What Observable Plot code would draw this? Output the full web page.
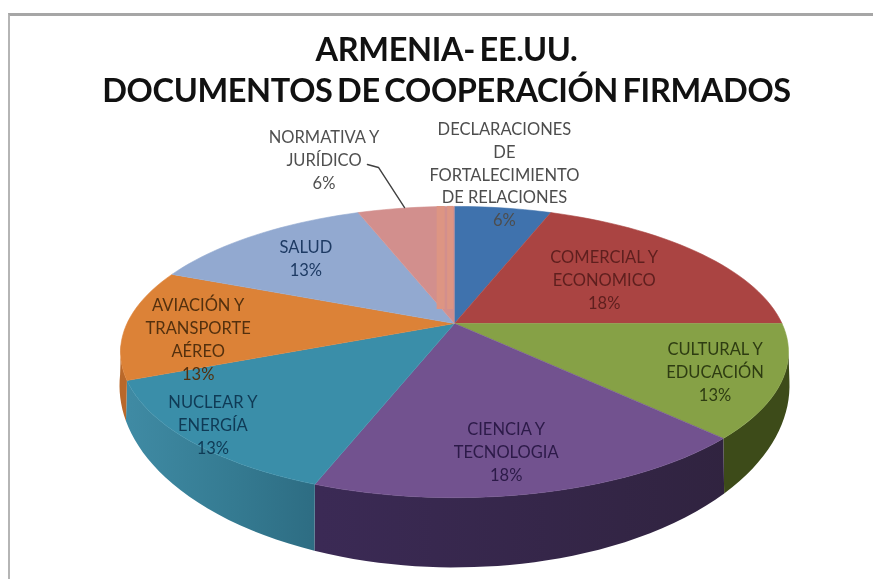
<!DOCTYPE html>
<html><head><meta charset="utf-8">
<script src="https://cdn.jsdelivr.net/npm/d3@7"></script>
<script src="https://cdn.jsdelivr.net/npm/@observablehq/plot@0.6"></script>
<style>
html,body{margin:0;padding:0;background:#fff;overflow:hidden;width:873px;height:579px}
#frame{position:absolute;left:8px;top:13px;width:865px;height:566px;border-top:3px solid #a6a6a6;border-left:2px solid #b5b5b5;overflow:hidden;filter:blur(.6px)}
#title{height:94px;box-sizing:border-box;padding-top:12px;font:bold 32.5px/41px Lato,sans-serif;color:#111;text-align:center;width:875px;margin-left:-1px;letter-spacing:-.35px;word-spacing:-3px}
#chart svg{display:block}
</style></head><body>
<div id="frame">
<div id="title">ARMENIA- EE.UU.<br>DOCUMENTOS DE COOPERACIÓN FIRMADOS</div>
<div id="chart"></div>
</div>
<script>
// Data, clockwise from twelve o'clock
const categories = ["DECLARACIONES\nDE\nFORTALECIMIENTO\nDE RELACIONES","COMERCIAL Y\nECONOMICO","CULTURAL Y\nEDUCACIÓN","CIENCIA Y\nTECNOLOGIA","NUCLEAR Y\nENERGÍA","AVIACIÓN Y\nTRANSPORTE\nAÉREO","SALUD","NORMATIVA Y\nJURÍDICO"];
const documents  = [1,3,2,3,2,2,2,1];
const percents   = ["6%","18%","13%","18%","13%","13%","13%","6%"];

// Styling
const topColors  = ["#3f72ad","#aa4442","#86a146","#72528f","#3a8ea9","#dc8237","#92a9d0","#d28f8d"];
const sideColors = ["#2c5078","#76302e","#3d4b19","url(#sideCiencia)","url(#sideNuclear)","#b9682a","#6a7da0","#a06c6a"];
const textColors = ["#4d4d4d","#5e1f1e","#2e3c12","#2c1a48","#0f3a55","#53300e","#1d3a63","#505050"];
// Label centres in the pie's own plane (unit circle: u to the right, v to the far side)
const labelU = [0.193,0.488,0.746,0.134,-0.647,-0.767,-0.5,-0.518];
const labelV = [1.36,0.345,-0.318,-0.77,-0.6275,-0.102,0.521,1.53];
// Leader line, pie-plane coordinates
const leaderU = [-0.342,-0.297,-0.182];
const leaderV = [1.461,1.426,0.989];
// Salmon bands inside the Normativa slice, rim angle in degrees
const bandAngles = [356.5,358.9];
const bandWidths = [8,6];

// Perspective view of the pie disc
const CX = 454;
const topFace = {a:323,b:-76.7,c:0.196,d:327.5};
const botFace = {a:349.3,b:-106.5,c:0.196,d:328.5};
const project = (f,u,v)=>{const w=1+f.c*v;return {x:CX+f.d*u/w,y:(f.a+f.b*v)/w};};
const rad = Math.PI/180;
const warp = th => th-2.5*Math.sin(4*th*rad)*Math.cos(th*rad)**2;
const rim = (f,th)=>{const t=warp(th)*rad;return project(f,Math.sin(t),Math.cos(t));};
const arc = (f,a,b)=>{const n=Math.max(2,Math.ceil(Math.abs(b-a)/2));return d3.range(n+1).map(i=>rim(f,a+(b-a)*i/n));};

const total = d3.sum(documents);
const cum = d3.cumsum(documents);
const spans = documents.map((v,i)=>[(cum[i]-v)/total*360,cum[i]/total*360]);
const apex = project(topFace,0,0);

const SIDE_FROM=100, SIDE_TO=262;
const walls = spans.map(([a,b],i)=>{
  const s=Math.max(a,SIDE_FROM),e=Math.min(b,SIDE_TO);
  if(s>=e) return null;
  return {fill:sideColors[i],pts:[...arc(topFace,s,e),...arc(botFace,e,s)]};
}).filter(Boolean);
const wedges = spans.map(([a,b],i)=>({fill:topColors[i],pts:[apex,...arc(topFace,a,b)]}));
const labels = categories.map((c,i)=>({text:c+"\n"+percents[i],color:textColors[i],...project(topFace,labelU[i],labelV[i])}));
const leader = leaderU.map((u,i)=>project(topFace,u,leaderV[i]));
const bands = bandAngles.map((a,i)=>({...rim(topFace,a),w:bandWidths[i]}));

const defs = ()=>{
  const d=d3.create("svg:defs");
  const g=(id,x1,x2,stops)=>{const l=d.append("linearGradient").attr("id",id).attr("gradientUnits","userSpaceOnUse")
    .attr("x1",x1).attr("x2",x2).attr("y1",0).attr("y2",0);
    stops.forEach(([o,c])=>l.append("stop").attr("offset",o).attr("stop-color",c));};
  g("sideNuclear",120,320,[[0,"#3f8aa3"],[.5,"#357b92"],[1,"#2c6a80"]]);
  g("sideCiencia",310,725,[[0,"#3b2a55"],[1,"#30233f"]]);
  return d.node();
};

const chart = Plot.plot({
  width:863,height:469,margin:0,
  x:{domain:[10,873],range:[0,863],axis:null},
  y:{domain:[110,579],range:[0,469],axis:null},
  marks:[
    defs,
    ...walls.map(w=>Plot.line(w.pts,{x:"x",y:"y",fill:w.fill,stroke:"none"})),
    ...wedges.map(w=>Plot.line(w.pts,{x:"x",y:"y",fill:w.fill,stroke:w.fill,strokeWidth:.6})),
    ...bands.map(b=>Plot.ruleX([b],{x:"x",y1:"y",y2:apex.y-14,stroke:"#dd9583",strokeWidth:b.w})),
    Plot.line(leader,{x:"x",y:"y",stroke:"#404040",strokeWidth:1.4}),
    Plot.text(labels,{x:"x",y:"y",text:"text",fill:"color",fontSize:16.5,lineHeight:1.39,fontFamily:"Lato, sans-serif"})
  ]
});
document.getElementById("chart").append(chart);
</script>
</body></html>
